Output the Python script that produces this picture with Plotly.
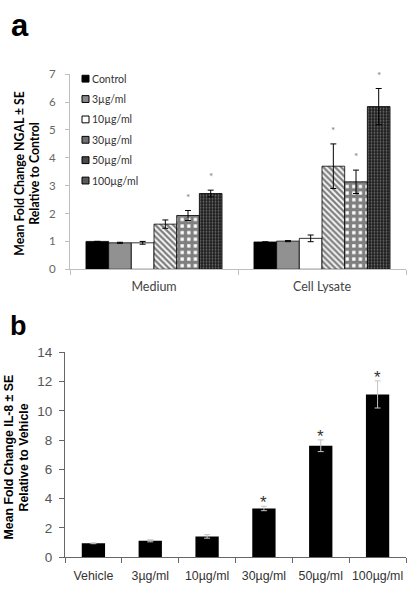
import plotly.graph_objects as go

# ---------------- data ----------------
groups_a = ["Medium", "Cell Lysate"]
series_a = ["Control", "3µg/ml", "10µg/ml", "30µg/ml", "50µg/ml", "100µg/ml"]
ngal_medium = [1.00, 0.95, 0.95, 1.62, 1.93, 2.72]
ngal_medium_se = [0.00, 0.02, 0.05, 0.15, 0.18, 0.12]
ngal_lysate = [0.98, 1.01, 1.11, 3.70, 3.14, 5.84]
ngal_lysate_se = [0.00, 0.02, 0.12, 0.80, 0.42, 0.65]
sig_medium = [False, False, False, False, True, True]
sig_lysate = [False, False, False, True, True, True]

cats_b = ["Vehicle", "3µg/ml", "10µg/ml", "30µg/ml", "50µg/ml", "100µg/ml"]
il8 = [0.95, 1.12, 1.42, 3.33, 7.62, 11.13]
il8_se = [0.03, 0.07, 0.12, 0.15, 0.40, 0.93]
sig_b = [False, False, False, True, True, True]

y_ticks_a = [0, 1, 2, 3, 4, 5, 6, 7]
y_ticks_b = [0, 2, 4, 6, 8, 10, 12, 14]

# ---------------- styles ----------------
W, H = 409, 600
FA = "Lato, 'Open Sans', sans-serif"
FB = "'Liberation Sans', Arial, sans-serif"
BARGAP_A = 0.19
BAR_W_B = 0.41

styles = [
    dict(color="black", pattern=dict(shape="")),
    dict(color="#8c8c8c", pattern=dict(shape="+", fgcolor="#4a4a4a", bgcolor="#a8a8a8", size=2, solidity=0.5)),
    dict(color="white", pattern=dict(shape="")),
    dict(color="white", pattern=dict(shape="\\", fgcolor="black", bgcolor="white", size=4.2, solidity=0.55)),
    dict(color="white", pattern=dict(shape="+", fgcolor="black", bgcolor="white", size=6.6, solidity=0.75)),
    dict(color="#333", pattern=dict(shape=".", fgcolor="#bdbdbd", bgcolor="#1e1e1e", size=3, solidity=0.3)),
]
legend_fill = ["black", "#8a8a8a", "white", "#707070", "#4a4a4a", "#5a5a5a"]


def px_x(p):
    return p / W


def px_y(p):
    return 1 - p / H


fig = go.Figure()
annotations, shapes = [], []

# ---------------- panel a ----------------
n_a = len(series_a)
slot = (1 - BARGAP_A) / n_a
STAR_GAP_A = 0.5
for i, name in enumerate(series_a):
    fig.add_trace(go.Bar(
        x=groups_a, y=[ngal_medium[i], ngal_lysate[i]], name=name,
        error_y=dict(type="data", array=[ngal_medium_se[i], ngal_lysate_se[i]],
                     color="black", thickness=1, width=3),
        marker=dict(color=styles[i]["color"], pattern=styles[i]["pattern"],
                    line=dict(color="black", width=0.8)),
        xaxis="x", yaxis="y", showlegend=False,
    ))
    for gi, (vals, ses, sig) in enumerate(((ngal_medium, ngal_medium_se, sig_medium),
                                           (ngal_lysate, ngal_lysate_se, sig_lysate))):
        if sig[i]:
            annotations.append(dict(
                text="*", xref="x", yref="y",
                x=gi + (i - (n_a - 1) / 2) * slot, y=vals[i] + ses[i] + STAR_GAP_A,
                xanchor="center", yanchor="middle", showarrow=False,
                font=dict(family=FA, size=10, color="#777")))

# ---------------- panel b ----------------
fig.add_trace(go.Bar(
    x=cats_b, y=il8, width=BAR_W_B,
    error_y=dict(type="data", array=il8_se, color="#c4c4c4", thickness=1, width=3),
    marker=dict(color="black", line=dict(color="black", width=0)),
    xaxis="x2", yaxis="y2", showlegend=False,
))
STAR_GAP_B = 0.24
for c, v, e, s in zip(cats_b, il8, il8_se, sig_b):
    if s:
        annotations.append(dict(
            text="*", xref="x2", yref="y2", x=c, y=v + e + STAR_GAP_B,
            xanchor="center", yanchor="middle", showarrow=False,
            font=dict(family=FB, size=17, color="#333")))

# ---------------- manual legend (panel a) ----------------
leg_y0, leg_dy = 73.5, 20.9
for i, name in enumerate(series_a):
    cy = leg_y0 + i * leg_dy
    shapes.append(dict(type="rect", xref="paper", yref="paper",
                       x0=px_x(82), x1=px_x(89), y0=px_y(cy + 3.5), y1=px_y(cy - 3.5),
                       fillcolor=legend_fill[i], line=dict(color="black", width=1)))
    annotations.append(dict(text=name, xref="paper", yref="paper",
                            x=px_x(89.5), y=px_y(cy), xanchor="left", yanchor="middle",
                            showarrow=False, font=dict(family=FA, size=10.5, color="#333")))

# panel letters
annotations.append(dict(text="<b>a</b>", xref="paper", yref="paper", x=px_x(20), y=px_y(19),
                        xanchor="center", yanchor="middle", showarrow=False,
                        font=dict(family=FB, size=31, color="black")))
annotations.append(dict(text="<b>b</b>", xref="paper", yref="paper", x=px_x(18.5), y=px_y(327),
                        xanchor="center", yanchor="middle", showarrow=False,
                        font=dict(family=FB, size=27, color="black")))

# y-axis titles
for txt, xc, yc, fam, sz in (
        ("Mean Fold Change NGAL ± SE", 20, 171, FA, 12.3),
        ("Relative to Control", 35, 171, FA, 12.3),
        ("Mean Fold Change IL-8 ± SE", 9, 462, FB, 12.3),
        ("Relative to Vehicle", 24, 462, FB, 12.3)):
    annotations.append(dict(text="<b>" + txt + "</b>", xref="paper", yref="paper",
                            x=px_x(xc), y=px_y(yc), xanchor="center", yanchor="middle",
                            textangle=-90, showarrow=False,
                            font=dict(family=fam, size=sz, color="black")))

fig.update_layout(
    width=W, height=H, margin=dict(l=0, r=0, t=0, b=0),
    paper_bgcolor="white", plot_bgcolor="white",
    barmode="group", bargap=BARGAP_A, bargroupgap=0,
    shapes=shapes, annotations=annotations,
    xaxis=dict(domain=[px_x(70), px_x(406)], anchor="y", showline=True, linecolor="#bfbfbf",
               linewidth=1, ticks="outside", tickson="boundaries", ticklen=5,
               tickcolor="#bfbfbf", tickfont=dict(family=FA, size=12.5, color="#444"),
               ticklabelstandoff=6, tickangle=0, showgrid=False, zeroline=False),
    yaxis=dict(domain=[px_y(269), px_y(69)], anchor="x", range=[0, 7], tickvals=y_ticks_a,
               showline=True, linecolor="#bfbfbf", linewidth=1, ticks="outside", ticklen=4,
               tickcolor="#bfbfbf", tickfont=dict(family=FA, size=11.5, color="#666"),
               ticklabelstandoff=7, showgrid=False, zeroline=False),
    xaxis2=dict(domain=[px_x(65), px_x(406)], anchor="y2", showline=True, linecolor="#666",
                linewidth=1, ticks="outside", tickson="boundaries", ticklen=5,
                tickcolor="#666", tickfont=dict(family=FB, size=12.4, color="#333"),
                ticklabelstandoff=7, tickangle=0, showgrid=False, zeroline=False),
    yaxis2=dict(domain=[px_y(564.3), px_y(354.3)], anchor="x2", range=[0, 14], tickvals=y_ticks_b,
                showline=True, linecolor="#666", linewidth=1, ticks="outside", ticklen=5,
                tickcolor="#666", tickfont=dict(family=FB, size=13.5, color="#555"),
                ticklabelstandoff=4, showgrid=False, zeroline=False),
)

fig.write_html("out.html", config={"displayModeBar": False},
               post_script="document.body.style.margin='0';document.body.style.padding='0';")
